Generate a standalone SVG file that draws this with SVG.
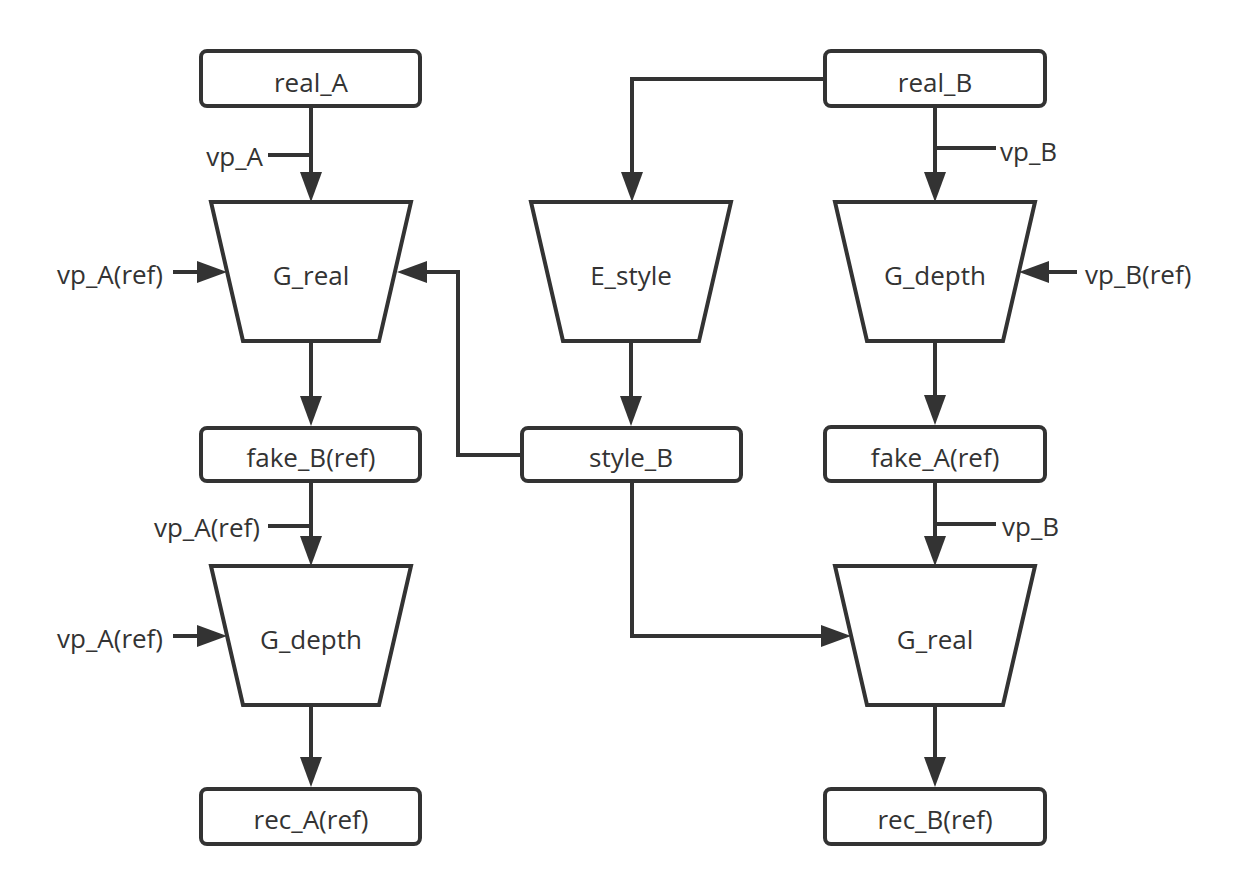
<svg xmlns="http://www.w3.org/2000/svg" width="1252" height="896" viewBox="0 0 1252 896">
<style>
.box{fill:#fff;stroke:#333;stroke-width:4}
.trap{fill:#fff;stroke:#333;stroke-width:4;stroke-linejoin:miter}
.t{font-family:"Open Sans","Noto Sans",sans-serif;font-size:26px;fill:#333}
.c{text-anchor:middle}
.e{text-anchor:end}
.ln{fill:none;stroke:#333;stroke-width:4}
.ar{marker-end:url(#arr)}
</style>
<defs>
<marker id="arr" viewBox="0 0 30 22" refX="20" refY="11" markerWidth="30" markerHeight="22" markerUnits="userSpaceOnUse" orient="auto">
<path d="M0,0 L30,11 L0,22 z" fill="#333"/>
</marker>
</defs>
<rect width="1252" height="896" fill="#fff"/>
<g id="connectors">
<path class="ln ar" d="M311,108 V192"/>
<path class="ln" d="M268,155 H311"/>
<path class="ln ar" d="M173,272 H217"/>
<path class="ln ar" d="M311,341 V416"/>
<path class="ln ar" d="M311,483 V556"/>
<path class="ln" d="M268,526 H311"/>
<path class="ln ar" d="M173,636 H217"/>
<path class="ln ar" d="M311,705 V777"/>
<path class="ln ar" d="M823,79 H632 V192"/>
<path class="ln ar" d="M935,108 V192"/>
<path class="ln" d="M935,148 H996"/>
<path class="ln ar" d="M1077,272 H1029"/>
<path class="ln ar" d="M631,341 V416"/>
<path class="ln ar" d="M520,455 H458 V272 H407"/>
<path class="ln ar" d="M935,341 V415"/>
<path class="ln ar" d="M935,483 V556"/>
<path class="ln" d="M935,524 H996"/>
<path class="ln ar" d="M632,483 V636 H841"/>
<path class="ln ar" d="M935,705 V777"/>
</g>
<g id="real_A"><rect class="box" x="201" y="51" width="219" height="55" rx="6"/><text class="t c" x="311" y="92">real_A</text></g>
<g id="real_B"><rect class="box" x="825" y="51" width="220" height="55" rx="6"/><text class="t c" x="935" y="92">real_B</text></g>
<g id="G_real_A"><polygon class="trap" points="211,202 411,202 379,341 243,341"/><text class="t c" x="311" y="285">G_real</text></g>
<g id="E_style"><polygon class="trap" points="531,202 731,202 699,341 563,341"/><text class="t c" x="631" y="285">E_style</text></g>
<g id="G_depth_B"><polygon class="trap" points="835,202 1035,202 1003,341 867,341"/><text class="t c" x="935" y="285">G_depth</text></g>
<g id="fake_B"><rect class="box" x="201" y="428" width="219" height="53" rx="6"/><text class="t c" x="311" y="467">fake_B(ref)</text></g>
<g id="style_B"><rect class="box" x="522" y="428" width="219" height="53" rx="6"/><text class="t c" x="631" y="467">style_B</text></g>
<g id="fake_A"><rect class="box" x="825" y="427" width="220" height="54" rx="6"/><text class="t c" x="935" y="467">fake_A(ref)</text></g>
<g id="G_depth_A"><polygon class="trap" points="211,566 411,566 379,705 243,705"/><text class="t c" x="311" y="649">G_depth</text></g>
<g id="G_real_B"><polygon class="trap" points="835,566 1035,566 1003,705 867,705"/><text class="t c" x="935" y="649">G_real</text></g>
<g id="rec_A"><rect class="box" x="201" y="789" width="219" height="55" rx="6"/><text class="t c" x="311" y="829">rec_A(ref)</text></g>
<g id="rec_B"><rect class="box" x="825" y="789" width="220" height="55" rx="6"/><text class="t c" x="935" y="829">rec_B(ref)</text></g>
<g id="labels">
<text class="t e" x="263" y="166">vp_A</text>
<text class="t" x="57" y="284">vp_A(ref)</text>
<text class="t e" x="260" y="537">vp_A(ref)</text>
<text class="t" x="57" y="648">vp_A(ref)</text>
<text class="t" x="1000" y="161">vp_B</text>
<text class="t" x="1085" y="284">vp_B(ref)</text>
<text class="t" x="1002" y="536">vp_B</text>
</g>
</svg>
